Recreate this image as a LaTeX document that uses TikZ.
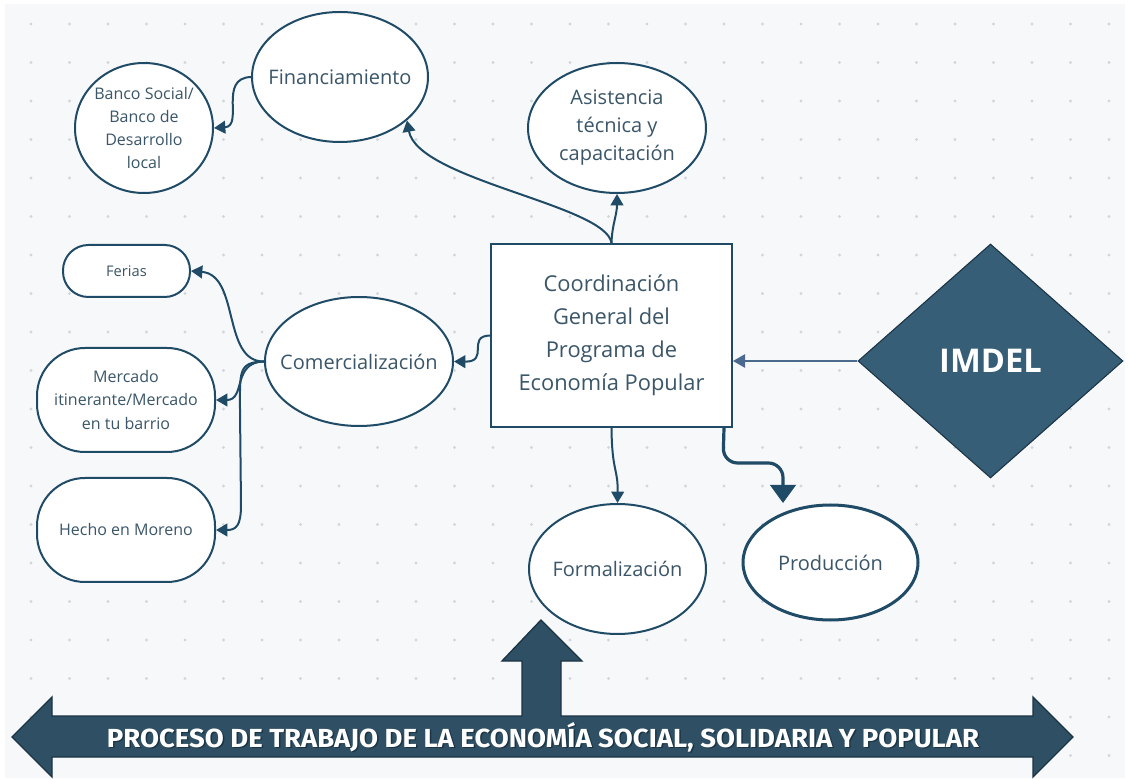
\documentclass[tikz,border=0pt]{standalone}
\usepackage{fontspec}
\setmainfont{Open Sans}
\newfontfamily\bannerfont{Fira Sans}
\usetikzlibrary{shapes.geometric,arrows.meta}
\definecolor{bg}{HTML}{F7F8FA}
\definecolor{dotc}{HTML}{D2D7DC}
\definecolor{edge}{HTML}{1F4B66}
\definecolor{txt}{HTML}{3A5668}
\definecolor{imd}{HTML}{365E76}
\definecolor{imdline}{HTML}{4C6A8E}
\definecolor{band}{HTML}{2F5064}
\definecolor{bandline}{HTML}{1B3444}
\begin{document}
\begin{tikzpicture}[x=0.75pt,y=-0.75pt,
  bub/.style={ellipse, draw=edge, line width=1.5pt, fill=white, inner sep=0pt},
  lbl/.style={inner sep=0pt, text=txt, align=center},
  pill/.style={rectangle, draw=edge, line width=1.5pt, fill=white, inner sep=0pt, text=txt, align=center},
  arr/.style={draw=edge, line width=1.5pt, -{Triangle[width=9.5pt,length=8.5pt]}},
  arrbig/.style={draw=edge, line width=2.4pt, rounded corners=11pt, -{Triangle[width=19pt,length=13.5pt]}},
  arrimd/.style={draw=imdline, line width=1.1pt, -{Triangle[width=10pt,length=9pt]}},
  fbig/.style={font=\fontsize{15}{21}\selectfont},
  fsmall/.style={font=\fontsize{12}{17.3}\selectfont},
]
\useasboundingbox (0,0) rectangle (1129,780);
\fill[white] (0,0) rectangle (1129,780);
\fill[bg] (5,4) rectangle (1125,778);
\foreach \i in {0,...,28} \foreach \j in {0,...,19} \fill[dotc] ({31+38.5*\i},{24+38.5*\j}) circle[radius=1.2pt];

% nodes
\node[bub, minimum width=132pt, minimum height=97.5pt] (fin) at (340,77) {};
\node[lbl, fbig] (finT) at (fin.center) {Financiamiento};
\node[bub, minimum width=103.5pt, minimum height=97.5pt] (banco) at (144,128) {};
\node[lbl, fsmall] (bancoT) at (banco.center) {Banco Social/\\Banco de\\Desarrollo\\local};
\node[bub, minimum width=133.5pt, minimum height=97.5pt] (asis) at (617,128) {};
\node[lbl, fbig] (asisT) at (asis.center) {Asistencia\\técnica y\\capacitación};
\node[rectangle, draw=edge, line width=1.5pt, fill=white, text=txt, align=center, inner sep=0pt,
      minimum width=180.75pt, minimum height=137.25pt, font=\fontsize{16.4}{24.8}\selectfont] (coord) at (611.5,335.5)
      {Coordinación\\General del\\Programa de\\Economía Popular};
\node[bub, minimum width=141pt, minimum height=96.75pt] (com) at (359,361.5) {};
\node[lbl, fbig] (comT) at (com.center) {Comercialización};
\node[pill, font=\fontsize{11}{14}\selectfont, minimum width=95.25pt, minimum height=39pt, rounded corners=19pt] (ferias) at (126.5,271) {Ferias};
\node[pill, fsmall, minimum width=133.5pt, minimum height=78pt, rounded corners=36pt] (merc) at (126,400) {Mercado\\itinerante/Mercado\\en tu barrio};
\node[pill, fsmall, minimum width=133.5pt, minimum height=78pt, rounded corners=36pt] (hecho) at (126,530) {Hecho en Moreno};
\node[bub, minimum width=132.75pt, minimum height=97.5pt] (form) at (617.5,569) {};
\node[lbl, fbig] (formT) at (form.center) {Formalización};
\node[bub, line width=2.25pt, minimum width=131.25pt, minimum height=86.25pt] (prod) at (830.5,562.5) {};
\node[lbl, fbig] (prodT) at (prod.center) {Producción};
\node[diamond, fill=imd, draw=bandline, line width=0.8pt, inner sep=0pt, text=white,
      minimum width=198.75pt, minimum height=175.5pt, font=\bfseries\fontsize{24.5}{28}\selectfont] (imdel) at (990.5,361) {IMDEL};
\coordinate (prodin) at (783,503);

% connectors
\draw[arr] (coord.north) .. controls (612,225) and (617,215) .. (asis.south);
\draw[arr] (coord.north) .. controls (606,205) and (418,180) .. (fin.-33);
\draw[arr] (fin.west) .. controls (218,78) and (244,126) .. (banco.east);
\draw[arr] (coord.west) .. controls (466,336) and (490,362) .. (com.east);
\draw[arr] (com.west) .. controls (222,362) and (240,275) .. (ferias.east);
\draw[arr] (com.west) .. controls (232,362) and (246,400) .. (merc.east);
\draw[arr] (com.west) .. controls (238,362) and (240,372) .. (240,410) -- (241,505) .. controls (241,526) and (236,530) .. (hecho.east);
\draw[arr] (coord.south) .. controls (612,472) and (618,468) .. (form.north);
\draw[arrbig] ([xshift=-6.75pt]coord.south east) -- (723,463) -- (783,463) -- (prodin);
\draw[arrimd] (imdel.west) -- (imdel.west -| coord.east);

% bottom banner arrow
\filldraw[fill=band, draw=bandline, line width=1pt, line join=miter]
  (12,737) -- (52,697) -- (52,716) -- (522,716) -- (522,661) -- (502,661) -- (541,620) -- (582,661)
  -- (561,661) -- (561,716) -- (1033,716) -- (1033,697) -- (1073,737) -- (1033,777) -- (1033,757)
  -- (52,757) -- (52,777) -- cycle;
\node[text=bandline] (procS) at (544.5,738.5) {\resizebox{654pt}{\height}{\bannerfont\bfseries\fontsize{19.6}{22}\selectfont PROCESO DE TRABAJO DE LA ECONOMÍA SOCIAL, SOLIDARIA Y POPULAR}};
\node[text=white] (proc) at (543,737) {\resizebox{654pt}{\height}{\bannerfont\bfseries\fontsize{19.6}{22}\selectfont PROCESO DE TRABAJO DE LA ECONOMÍA SOCIAL, SOLIDARIA Y POPULAR}};
\end{tikzpicture}
\end{document}
